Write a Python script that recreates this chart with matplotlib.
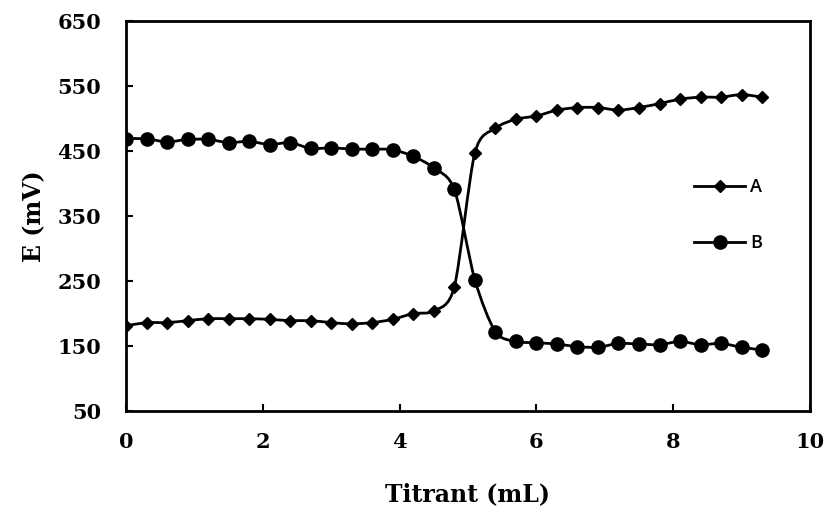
import matplotlib
matplotlib.use("Agg")
import matplotlib.pyplot as plt
from matplotlib.path import Path
from matplotlib.patches import PathPatch
from matplotlib.lines import Line2D
import numpy as np

titrant = [0.0, 0.3, 0.6, 0.9, 1.2, 1.5, 1.8, 2.1, 2.4, 2.7, 3.0, 3.3, 3.6, 3.9, 4.2, 4.5,
           4.8, 5.1, 5.4, 5.7, 6.0, 6.3, 6.6, 6.9, 7.2, 7.5, 7.8, 8.1, 8.4, 8.7, 9.0, 9.3]
series_a = [181, 186, 186, 189, 192, 192, 192, 191, 189, 189, 186, 184, 186, 191, 200, 204,
            241, 447, 485, 499, 504, 513, 517, 517, 513, 517, 523, 530, 533, 533, 537, 533]
series_b = [469, 469, 464, 468, 468, 463, 465, 460, 463, 454, 455, 453, 453, 452, 442, 424,
            391, 252, 172, 157, 155, 153, 149, 148, 154, 153, 152, 157, 152, 154, 148, 144]
labels = ["A", "B"]
x_ticks = [0, 2, 4, 6, 8, 10]
y_ticks = [50, 150, 250, 350, 450, 550, 650]

plt.rcParams["font.family"] = ["DejaVu Serif"]

fig = plt.figure(figsize=(8.3, 5.15), dpi=100)
ax = fig.add_axes([0.1518, 0.202, 0.8241, 0.757])


def smooth_path(xs, ys, k=0.14):
    pts = np.column_stack([xs, ys]).astype(float)
    n = len(pts)
    verts = [pts[0]]
    codes = [Path.MOVETO]
    for i in range(n - 1):
        p0 = pts[i - 1] if i > 0 else pts[i]
        p1 = pts[i]
        p2 = pts[i + 1]
        p3 = pts[i + 2] if i + 2 < n else pts[i + 1]
        c1 = p1 + (p2 - p0) * k
        c2 = p2 - (p3 - p1) * k
        verts += [c1, c2, p2]
        codes += [Path.CURVE4] * 3
    return Path(verts, codes)


for ys, mk, ms in [(series_a, "D", 6), (series_b, "o", 9.5)]:
    ax.add_patch(PathPatch(smooth_path(titrant, ys), fill=False, edgecolor="black",
                           lw=2.0, zorder=2))
    ax.plot(titrant, ys, linestyle="none", marker=mk, markersize=ms, color="black", zorder=3)

handles = [Line2D([], [], color="black", lw=2.0, marker="D", markersize=6),
           Line2D([], [], color="black", lw=2.0, marker="o", markersize=9.5)]
leg = ax.legend(handles, labels, loc="center left", bbox_to_anchor=(0.807, 0.502),
                frameon=False, handlelength=2.8, handletextpad=0.3, labelspacing=2.1,
                prop={"family": "Open Sans", "size": 13, "weight": "semibold"})

ax.set_xlim(0, 10)
ax.set_ylim(50, 650)
ax.set_xticks(x_ticks)
ax.set_yticks(y_ticks)
ax.tick_params(direction="in", length=5, width=1.5, labelsize=15)
ax.tick_params(axis="x", pad=15)
ax.tick_params(axis="y", pad=18)
for lab in ax.get_xticklabels() + ax.get_yticklabels():
    lab.set_fontweight("bold")
for sp in ax.spines.values():
    sp.set_linewidth(2.0)

ax.set_xlabel("Titrant (mL)", fontsize=17, fontweight="bold", labelpad=22)
ax.set_ylabel("E (mV)", fontsize=17, fontweight="bold", labelpad=8)

fig.savefig("out.png", dpi=100)
